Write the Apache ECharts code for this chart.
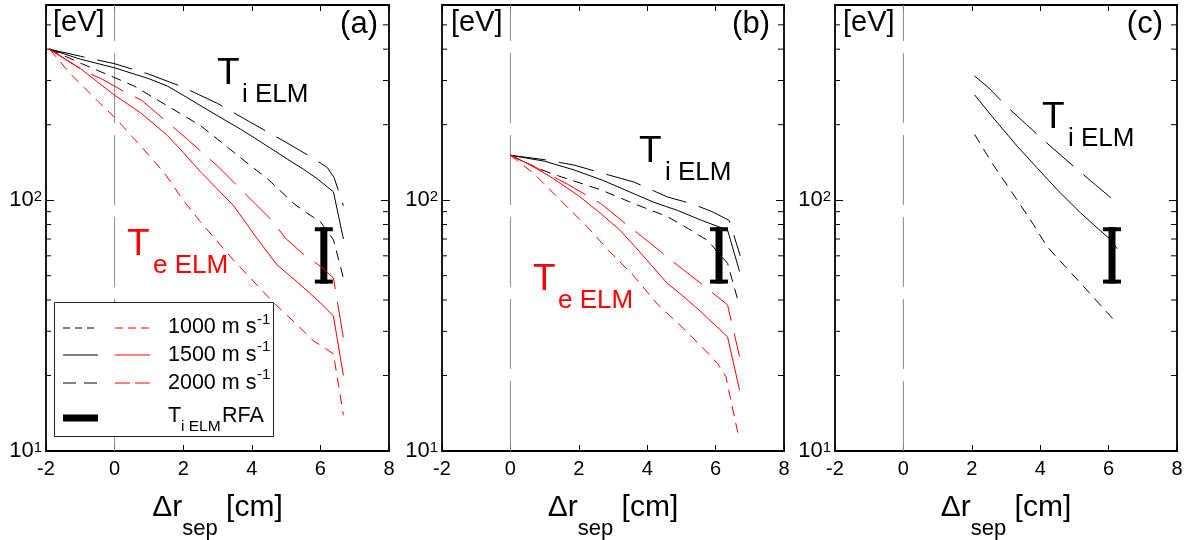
<!DOCTYPE html>
<html>
<head>
<meta charset="utf-8">
<script src="https://cdn.jsdelivr.net/npm/echarts@6/dist/echarts.min.js"></script>
<style>
  html, body { margin: 0; padding: 0; background: #fff; }
  #chart { width: 1195px; height: 540px; }
</style>
</head>
<body>
<div id="chart"></div>
<script>
// ---- axes ----
const xRange = [-2, 8];
const xInterval = 2;
const yRange = [10, 600];
const yLabelExponents = [1, 2];
const yMinorTicks = [20, 30, 40, 50, 60, 70, 80, 90, 200, 300, 400, 500];
const separatrix = 0;

// ---- RFA measurement of T_i,ELM [eV] ----
const rfaPosition = 6.1;
const rfaRange = [46.5, 78];

// ---- panel (a): [Δr_sep cm, T eV] ----
const aTi1000 = [[-1.9,400],[-1,352],[0,308],[0.57,285],[1,263],[2,218],[2.51,198],[3,175],[4,136],[4.45,122],[5.22,97],[5.6,89],[6,82],[6.38,69.5],[6.67,49]];
const aTi1500 = [[-1.9,400],[-1,365],[0,337],[1,305],[1.54,285],[2,262],[3,217],[3.67,192],[4,180],[5.03,146],[5.5,133],[5.9,122],[6.38,108],[6.67,70]];
const aTi2000 = [[-1.9,400],[-1,375],[0,350],[1,318],[2,282],[3,243],[4,203],[5,170],[5.75,148],[6.2,135],[6.4,123],[6.67,95]];
const aTe1000 = [[-1.9,400],[-1.27,317],[-0.5,249],[0,214],[0.7,168],[1.44,129],[2,100],[2.5,82],[3.5,57],[4.64,39],[5.2,33],[5.8,27.5],[6.38,24.4],[6.67,13.9]];
const aTe1500 = [[-1.9,400],[-1,335],[0,262],[0.76,223],[1.54,181],[2,155],[2.5,130],[3.47,95],[4.1,72],[4.73,55.3],[5.41,46.1],[6,39],[6.38,34.5],[6.67,20]];
const aTe2000 = [[-1.9,400],[-0.89,327],[-0.35,303],[0.3,270],[0.81,249],[1.15,227],[2.12,175],[3,137],[3.81,106],[4.59,83],[4.98,70.5],[5.5,61],[6,54.5],[6.38,49],[6.67,28.3]];

// ---- panel (b) ----
const bTi1000 = [[0,151],[0.5,140],[1.17,128],[2.64,110],[3.6,97],[4.59,86],[5.2,77],[5.77,69],[6.35,56],[6.65,40]];
const bTi1500 = [[0,151],[1,143],[1.86,132],[2.7,120],[3.62,106],[4.2,98],[4.89,91],[5.6,83],[6.35,76],[6.7,52]];
const bTi2000 = [[0,151],[1,145],[1.86,138],[2.7,128],[3.62,118],[4.59,103],[5.28,97],[5.9,90],[6.4,83],[6.72,60]];
const bTe1000 = [[0,151],[0.68,128],[1.66,94],[2.3,77],[2.87,63],[3.6,50],[4.3,38.5],[5.06,30.8],[5.6,26],[6.06,22.3],[6.3,19.8],[6.65,11.8]];
const bTe1500 = [[0,151],[0.5,140],[1.17,124],[2,104],[2.64,88.5],[3.2,76],[3.7,64],[4.59,46.6],[5,42],[5.57,35.9],[6.35,28.5],[6.7,17.5]];
const bTe2000 = [[0,151],[0.8,134],[1.66,116],[2.64,97],[3.4,80],[4.11,67],[4.89,55],[5.57,46.6],[6.35,38.2],[6.7,23.8]];

// ---- panel (c) ----
const cTi1000 = [[2.08,183],[2.6,140],[3.33,100],[3.8,80],[4.2,65.3],[4.7,55],[5.18,46.7],[5.7,39],[6.2,32.8]];
const cTi1500 = [[2.08,263],[2.6,215],[3.33,164],[3.9,135],[4.5,110],[5.18,89],[5.6,79],[6.06,69.5],[6.25,64]];
const cTi2000 = [[2.08,313],[2.5,280],[3.03,236],[3.6,200],[4.3,164],[4.99,136],[5.62,115],[6,104],[6.3,96]];

// ---- styles ----
const FONT = '"Liberation Sans", Arial, Helvetica, sans-serif';
const RED = '#ff0000';
const BLACK = '#000000';
const DASH = { 1000: [10, 7], 1500: 'solid', 2000: [36, 13] };

const panels = [
  { grid: { left: 46, top: 5, width: 343, height: 446 },
    curves: [
      { data: aTi1000, v: 1000, color: BLACK }, { data: aTi1500, v: 1500, color: BLACK }, { data: aTi2000, v: 2000, color: BLACK },
      { data: aTe1000, v: 1000, color: RED }, { data: aTe1500, v: 1500, color: RED }, { data: aTe2000, v: 2000, color: RED }
    ] },
  { grid: { left: 442, top: 5, width: 342, height: 446 },
    curves: [
      { data: bTi1000, v: 1000, color: BLACK }, { data: bTi1500, v: 1500, color: BLACK }, { data: bTi2000, v: 2000, color: BLACK },
      { data: bTe1000, v: 1000, color: RED }, { data: bTe1500, v: 1500, color: RED }, { data: bTe2000, v: 2000, color: RED }
    ] },
  { grid: { left: 835, top: 5, width: 342, height: 446 },
    curves: [
      { data: cTi1000, v: 1000, color: BLACK }, { data: cTi1500, v: 1500, color: BLACK }, { data: cTi2000, v: 2000, color: BLACK }
    ] }
];

const grids = [], xAxes = [], yAxes = [], series = [];

function yLabel(v) {
  const e = Math.round(Math.log10(v));
  if (Math.abs(Math.log10(v) - e) < 1e-6 && yLabelExponents.indexOf(e) >= 0) {
    return '{b|10}{s|' + e + '}';
  }
  return '';
}

panels.forEach((p, i) => {
  grids.push(Object.assign({ show: true, borderColor: '#000', borderWidth: 1.8, backgroundColor: 'transparent',
    containLabel: false, outerBoundsMode: 'none' }, p.grid));
  const xBase = { type: 'value', gridIndex: i, min: xRange[0], max: xRange[1], interval: xInterval,
    splitLine: { show: false }, axisLine: { show: false, onZero: false } };
  xAxes.push(Object.assign({}, xBase, {
    position: 'bottom',
    axisTick: { inside: true, length: 6, lineStyle: { color: '#000', width: 1 } },
    axisLabel: { fontSize: 20, color: '#000', fontFamily: FONT, margin: 8 },
    name: '{m|\u0394r}{s|sep}{m| [cm]}',
    nameLocation: 'middle', nameGap: 42,
    nameTextStyle: {
      color: '#000', fontFamily: FONT, fontSize: 30,
      rich: {
        m: { fontSize: 30, lineHeight: 30, verticalAlign: 'top', fontFamily: FONT, color: '#000' },
        s: { fontSize: 22, lineHeight: 47, verticalAlign: 'bottom', fontFamily: FONT, color: '#000' }
      }
    }
  }));
  xAxes.push(Object.assign({}, xBase, {
    position: 'top',
    axisTick: { inside: true, length: 6, lineStyle: { color: '#000', width: 1 } },
    axisLabel: { show: false }
  }));
  const yBase = { type: 'log', logBase: 10, gridIndex: i, min: yRange[0], max: yRange[1],
    splitLine: { show: false }, axisLine: { show: false, onZero: false } };
  yAxes.push(Object.assign({}, yBase, {
    position: 'left',
    axisTick: { inside: true, length: 8, lineStyle: { color: '#000', width: 1 } },
    axisLabel: {
      margin: 4, color: '#000', fontFamily: FONT, fontSize: 22, formatter: yLabel,
      rich: {
        b: { fontSize: 22, lineHeight: 22, fontFamily: FONT, color: '#000' },
        s: { fontSize: 15, lineHeight: 13, verticalAlign: 'top', fontFamily: FONT, color: '#000' }
      }
    }
  }));
  yAxes.push(Object.assign({}, yBase, {
    position: 'right',
    axisTick: { inside: true, length: 8, lineStyle: { color: '#000', width: 1 } },
    axisLabel: { show: false }
  }));

  const xi = 2 * i, yi = 2 * i;

  // minor ticks of the log axis on both sides
  series.push({
    type: 'custom', xAxisIndex: xi, yAxisIndex: yi, silent: true, clip: false, animation: false,
    data: yMinorTicks.map(v => [xRange[0], v]),
    renderItem: (params, api) => {
      const v = api.value(1);
      const l = api.coord([xRange[0], v]);
      const r = api.coord([xRange[1], v]);
      return { type: 'group', children: [
        { type: 'line', shape: { x1: l[0], y1: l[1], x2: l[0] + 5, y2: l[1] }, style: { stroke: '#000', lineWidth: 1 } },
        { type: 'line', shape: { x1: r[0] - 6, y1: r[1], x2: r[0], y2: r[1] }, style: { stroke: '#000', lineWidth: 1 } }
      ] };
    }
  });

  // separatrix
  series.push({
    type: 'line', xAxisIndex: xi, yAxisIndex: yi, silent: true, animation: false, showSymbol: false,
    data: [[separatrix, yRange[0]], [separatrix, yRange[1]]],
    lineStyle: { color: '#8a8a8a', width: 1, type: [70, 12] }
  });

  // simulated temperature profiles
  p.curves.forEach(c => {
    series.push({
      type: 'line', xAxisIndex: xi, yAxisIndex: yi, silent: true, animation: false, showSymbol: false,
      data: c.data,
      lineStyle: { color: c.color, width: 1, type: DASH[c.v] }
    });
  });

  // RFA range
  series.push({
    type: 'custom', xAxisIndex: xi, yAxisIndex: yi, silent: true, animation: false,
    data: [[rfaPosition, rfaRange[0], rfaRange[1]]],
    renderItem: (params, api) => {
      const top = api.coord([api.value(0), api.value(2)]);
      const bot = api.coord([api.value(0), api.value(1)]);
      const st = { fill: '#000' };
      return { type: 'group', children: [
        { type: 'rect', shape: { x: top[0] - 3.5, y: top[1], width: 7, height: bot[1] - top[1] }, style: st },
        { type: 'rect', shape: { x: top[0] - 9, y: top[1], width: 18, height: 4 }, style: st },
        { type: 'rect', shape: { x: bot[0] - 9, y: bot[1] - 4, width: 18, height: 4 }, style: st }
      ] };
    }
  });
});

// ---- annotations ----
function txt(x, base, s, size, color, align) {
  return {
    type: 'text', x: x, y: base - 0.3465 * size, z: 100,
    style: { text: s, font: size + 'px ' + FONT, fill: color || '#000',
      align: align || 'left', textAlign: align || 'left',
      verticalAlign: 'middle', textVerticalAlign: 'middle' }
  };
}
function seg(x1, y, x2, color, dash, w) {
  return { type: 'line', z: 100, shape: { x1: x1, y1: y, x2: x2, y2: y },
    style: { stroke: color, lineWidth: w || 1, lineDash: dash || null } };
}

const graphics = [
  // panel (a)
  txt(53, 33, '[eV]', 29), txt(378, 35.5, '(a)', 31, '#000', 'right'),
  txt(217, 87, 'T', 37), txt(242, 104, 'i ELM', 26),
  txt(127, 258, 'T', 37, RED), txt(153, 275, 'e ELM', 26, RED),
  // panel (b)
  txt(451, 33, '[eV]', 29), txt(770, 35.5, '(b)', 31, '#000', 'right'),
  txt(639, 165, 'T', 37), txt(665, 182, 'i ELM', 26),
  txt(533, 293, 'T', 37, RED), txt(558, 310, 'e ELM', 26, RED),
  // panel (c)
  txt(843, 33, '[eV]', 29), txt(1163, 35.5, '(c)', 31, '#000', 'right'),
  txt(1042, 131, 'T', 37), txt(1068, 148, 'i ELM', 26),
  // legend
  { type: 'rect', z: 99, shape: { x: 54.5, y: 302.5, width: 219, height: 134 },
    style: { fill: '#fff', stroke: '#222', lineWidth: 1 } },
  seg(63, 328, 98, BLACK, [7, 5]), seg(115, 328, 150, RED, [8, 5]),
  seg(63, 355, 98, BLACK), seg(115, 355, 150, RED),
  seg(63, 383, 98, BLACK, [13, 8]), seg(115, 383, 150, RED, [15, 5]),
  seg(63, 418, 98, BLACK, null, 7),
  txt(168, 335, '1000 m s', 21.5), txt(257, 325, '-1', 15),
  txt(168, 363, '1500 m s', 21.5), txt(257, 352, '-1', 15),
  txt(168, 391, '2000 m s', 21.5), txt(257, 380, '-1', 15),
  txt(168, 424, 'T', 21.5), txt(181, 432, 'i ELM', 15.5), txt(222, 424, 'RFA', 21.5)
];

const chart = echarts.init(document.getElementById('chart'), null, { renderer: 'canvas' });
chart.setOption({
  animation: false,
  backgroundColor: '#fff',
  grid: grids,
  xAxis: xAxes,
  yAxis: yAxes,
  series: series,
  graphic: graphics
});
</script>
</body>
</html>
